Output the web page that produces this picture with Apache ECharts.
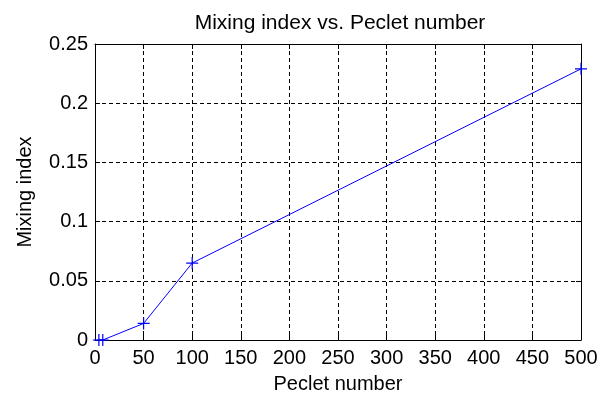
<!DOCTYPE html>
<html>
<head>
<meta charset="utf-8">
<script src="https://cdn.jsdelivr.net/npm/echarts@6/dist/echarts.min.js"></script>
<style>
  html, body { margin: 0; padding: 0; background: #ffffff; }
  #chart { width: 605px; height: 396px; }
</style>
</head>
<body>
<div id="chart"></div>
<script>
// Peclet numbers sampled and the mixing index measured at each
const peclet = [4, 8, 50, 100, 500];
const mixing = [0, 0, 0.014, 0.065, 0.229];

// Axis ranges and tick steps
const xRange = [0, 500, 50];
const yRange = [0, 0.25, 0.05];

const FONT = '"Liberation Sans", Arial, Helvetica, sans-serif';
const INK = '#000000';

const chart = echarts.init(document.getElementById('chart'), null, { renderer: 'canvas' });

// Thin "+" marker
const plusMark = 'path://M0,4.5H10V5.5H0Z M4.5,0H5.5V10H4.5Z';

const baseAxis = {
  axisLine: { show: true, onZero: false, lineStyle: { color: INK, width: 1 } },
  axisTick: { show: true, inside: true, length: 5, lineStyle: { color: INK, width: 1 } }
};

chart.setOption({
  animation: false,
  backgroundColor: '#ffffff',
  title: {
    text: 'Mixing index vs. Peclet number',
    left: 335,
    top: 8,
    textAlign: 'center',
    textStyle: { fontFamily: FONT, fontSize: 21, fontWeight: 'normal', color: INK }
  },
  grid: {
    left: 95, right: 24, top: 44, bottom: 56,
    containLabel: false,
    outerBoundsMode: 'none'
  },
  xAxis: [
    Object.assign({}, baseAxis, {
      type: 'value',
      position: 'bottom',
      min: xRange[0], max: xRange[1], interval: xRange[2],
      name: 'Peclet number',
      nameLocation: 'middle',
      nameGap: 34,
      nameTextStyle: { fontFamily: FONT, fontSize: 20, color: INK },
      axisLabel: { fontFamily: FONT, fontSize: 20, color: INK, margin: 8 },
      splitLine: { show: true, lineStyle: { color: INK, width: 1, type: [4, 3] } }
    }),
    Object.assign({}, baseAxis, {
      type: 'value',
      position: 'top',
      min: xRange[0], max: xRange[1], interval: xRange[2],
      axisLabel: { show: false },
      splitLine: { show: false }
    })
  ],
  yAxis: [
    Object.assign({}, baseAxis, {
      type: 'value',
      position: 'left',
      min: yRange[0], max: yRange[1], interval: yRange[2],
      name: 'Mixing index',
      nameLocation: 'middle',
      nameGap: 60,
      nameTextStyle: { fontFamily: FONT, fontSize: 20, color: INK },
      axisLabel: { fontFamily: FONT, fontSize: 20, color: INK, margin: 7 },
      splitLine: { show: true, lineStyle: { color: INK, width: 1, type: [4, 3] } }
    }),
    Object.assign({}, baseAxis, {
      type: 'value',
      position: 'right',
      min: yRange[0], max: yRange[1], interval: yRange[2],
      axisLabel: { show: false },
      splitLine: { show: false }
    })
  ],
  series: [{
    type: 'line',
    xAxisIndex: 0,
    yAxisIndex: 0,
    data: peclet.map((p, i) => [p, mixing[i]]),
    symbol: plusMark,
    symbolSize: 12,
    showSymbol: true,
    clip: false,
    lineStyle: { color: '#0000ff', width: 1 },
    itemStyle: { color: '#0000ff' },
    z: 5
  }]
});
</script>
</body>
</html>
